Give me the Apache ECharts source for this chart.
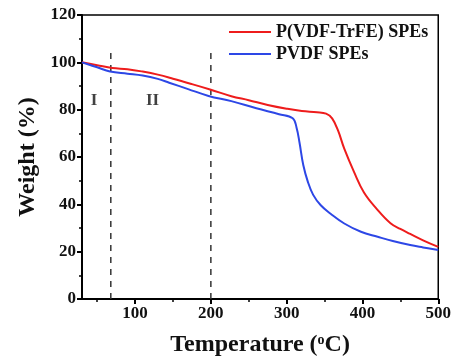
<!DOCTYPE html>
<html>
<head>
<meta charset="utf-8">
<script src="https://cdn.jsdelivr.net/npm/echarts@6/dist/echarts.min.js"></script>
<style>
  html, body { margin: 0; padding: 0; background: #fff; }
  #chart { width: 454px; height: 362px; }
</style>
</head>
<body>
<div id="chart"></div>
<script>
// TGA curves
const redTemp = [30, 50, 70, 90, 110, 130, 150, 175, 200, 227, 250, 275, 300, 320, 340, 352, 360, 368, 376, 389, 402, 419, 437, 450, 463, 480, 500];
const redWeight = [100, 98.8, 97.6, 97.1, 96.1, 94.8, 93.1, 90.8, 88.4, 85.7, 84, 82, 80.4, 79.4, 78.9, 78.3, 76.3, 71, 63.5, 53.6, 45, 38, 32, 29.6, 27.5, 24.8, 22];
const blueTemp = [30, 50, 67, 90, 110, 130, 145, 170, 197, 227, 260, 290, 308, 313, 317, 322, 328, 335, 345, 358, 376, 398, 420, 440, 463, 480, 500];
const blueWeight = [100, 97.9, 96.1, 95.2, 94.4, 93, 91.4, 88.7, 85.8, 83.6, 80.6, 78.1, 76.4, 72.5, 66, 56.5, 49.5, 44, 39.6, 36, 31.9, 28.4, 26.3, 24.5, 22.8, 21.8, 20.7];
const seriesNames = ['P(VDF-TrFE) SPEs', 'PVDF SPEs'];
const dividers = [68, 200];
const dividerTop = 106;
const regionLabels = [['I', 46, 84], ['II', 123, 84]];
const xTicks = [100, 200, 300, 400, 500];
const xMinorTicks = [50, 150, 250, 350, 450];

const chart = echarts.init(document.getElementById('chart'));
const font = 'Liberation Serif';
const zip = (xs, ys) => xs.map((x, i) => [x, ys[i]]);

chart.setOption({
  animation: false,
  grid: { left: 82, right: 14, top: 15, bottom: 61, show: true, borderColor: '#000', borderWidth: 1.5 },
  legend: {
    data: seriesNames,
    orient: 'vertical',
    left: 224,
    top: 18,
    itemWidth: 42,
    itemHeight: 2,
    itemGap: 4,
    icon: 'rect',
    textStyle: { fontFamily: font, fontWeight: 'bold', fontSize: 18, color: '#111' }
  },
  xAxis: [
    {
      type: 'value', min: 30, max: 500,
      name: 'Temperature ({sup|o}C)',
      nameLocation: 'middle', nameGap: 34,
      nameTextStyle: {
        fontFamily: font, fontWeight: 'bold', fontSize: 24, color: '#111',
        rich: { sup: { fontFamily: font, fontWeight: 'bold', fontSize: 14, padding: [0, 0, 10, 0], color: '#111' } }
      },
      axisLine: { lineStyle: { color: '#000', width: 2 } },
      axisTick: { customValues: xTicks, length: 5, lineStyle: { width: 2 } },
      axisLabel: { customValues: xTicks, fontFamily: font, fontWeight: 'bold', fontSize: 17, color: '#111', margin: 6 },
      splitLine: { show: false }
    },
    {
      type: 'value', min: 30, max: 500, position: 'bottom',
      axisLine: { show: false },
      axisTick: { customValues: xMinorTicks, length: 3, lineStyle: { width: 1.5, color: '#000' } },
      axisLabel: { show: false },
      splitLine: { show: false }
    }
  ],
  yAxis: {
    type: 'value', min: 0, max: 120, interval: 20,
    name: 'Weight (%)',
    nameLocation: 'middle', nameGap: 41, nameRotate: 90,
    nameTextStyle: { fontFamily: font, fontWeight: 'bold', fontSize: 24, color: '#111' },
    axisLine: { show: true, lineStyle: { color: '#000', width: 2 } },
    axisTick: { show: true, length: 5, lineStyle: { width: 2 } },
    minorTick: { show: true, splitNumber: 2, length: 3, lineStyle: { color: '#000', width: 1.5 } },
    axisLabel: { fontFamily: font, fontWeight: 'bold', fontSize: 17, color: '#111', margin: 6 },
    splitLine: { show: false }
  },
  series: [
    ...dividers.map(x => ({
      type: 'line', silent: true, symbol: 'none',
      data: [[x, 0], [x, dividerTop]],
      lineStyle: { color: '#333', width: 1.5, type: [6, 6] }
    })),
    {
      name: seriesNames[0], type: 'line', symbol: 'none', smooth: 0.4,
      data: zip(redTemp, redWeight),
      lineStyle: { color: '#ee1c1c', width: 2 }, itemStyle: { color: '#ee1c1c' }
    },
    {
      name: seriesNames[1], type: 'line', symbol: 'none', smooth: 0.4,
      data: zip(blueTemp, blueWeight),
      lineStyle: { color: '#2d47e6', width: 2 }, itemStyle: { color: '#2d47e6' }
    },
    {
      type: 'scatter', silent: true, symbolSize: 0,
      data: regionLabels.map(r => ({ value: [r[1], r[2]], name: r[0] })),
      label: {
        show: true, position: 'inside', formatter: p => p.name,
        fontFamily: font, fontWeight: 'bold', fontSize: 17, color: '#111'
      }
    }
  ]
});
</script>
</body>
</html>
